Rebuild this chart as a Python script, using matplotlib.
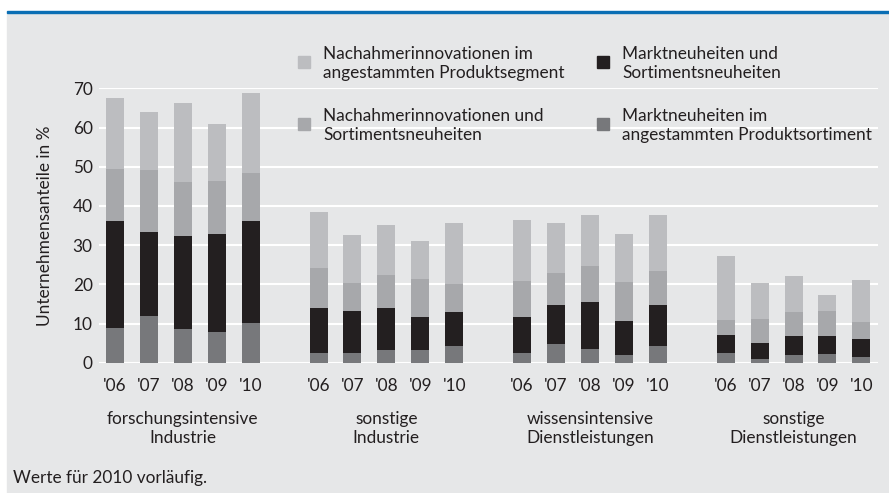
import numpy as np
import matplotlib
matplotlib.use("Agg")
import matplotlib.pyplot as plt
from matplotlib.patches import Rectangle

plt.rcParams['font.family'] = ['Lato', 'DejaVu Sans']

# data (Unternehmensanteile in %), stacked bottom -> top
groups = ["forschungsintensive\nIndustrie", "sonstige\nIndustrie",
          "wissensintensive\nDienstleistungen", "sonstige\nDienstleistungen"]
years = ["'06", "'07", "'08", "'09", "'10"]

# Marktneuheiten im angestammten Produktsortiment
markt_sortiment = [8.9, 11.9, 8.7, 7.8, 10.1,
                   2.5, 2.5, 3.2, 3.2, 4.3,
                   2.5, 4.8, 3.5, 2.0, 4.3,
                   2.5, 0.9, 2.0, 2.2, 1.4]
# Marktneuheiten und Sortimentsneuheiten
markt_neu = [27.2, 21.4, 23.6, 25.0, 26.0,
             11.5, 10.7, 10.8, 8.5, 8.6,
             9.2, 9.9, 12.0, 8.6, 10.4,
             4.6, 4.1, 4.8, 4.6, 4.6]
# Nachahmerinnovationen und Sortimentsneuheiten
nach_neu = [13.3, 15.9, 13.8, 13.6, 12.3,
            10.2, 7.1, 8.4, 9.7, 7.2,
            9.2, 8.2, 9.2, 10.0, 8.7,
            3.8, 6.1, 6.1, 6.4, 4.4]
# Nachahmerinnovationen im angestammten Produktsegment
nach_segment = [18.1, 14.8, 20.2, 14.5, 20.4,
                14.3, 12.3, 12.7, 9.7, 15.6,
                15.5, 12.8, 13.0, 12.3, 14.3,
                16.3, 9.2, 9.2, 4.1, 10.7]

labels = ["Nachahmerinnovationen im\nangestammten Produktsegment",
          "Nachahmerinnovationen und\nSortimentsneuheiten",
          "Marktneuheiten und\nSortimentsneuheiten",
          "Marktneuheiten im\nangestammten Produktsortiment"]

c_light, c_mid, c_black, c_dark = "#bcbdc0", "#a7a8ab", "#231f20", "#77787b"
bg = "#e6e7e8"
txt = "#231f20"
fs = 12.4

W, H = 889, 493
fig = plt.figure(figsize=(W / 100, H / 100), dpi=100)
fig.patches.append(Rectangle((7 / W, 0), 1, 480 / H, transform=fig.transFigure,
                             color=bg, zorder=-2))
fig.patches.append(Rectangle((7 / W, 480 / H), 1, 2.5 / H, transform=fig.transFigure,
                             color="#0a6eb4", zorder=-1))

ax = fig.add_axes([99 / W, 130.3 / H, 779 / W, 274.4 / H])
ax.set_facecolor(bg)

x = np.array([g * 6 + i for g in range(4) for i in range(5)])
w = 0.53
b1 = np.array(markt_sortiment)
b2 = b1 + np.array(markt_neu)
b3 = b2 + np.array(nach_neu)
ax.bar(x, markt_sortiment, w, color=c_dark, zorder=3)
ax.bar(x, markt_neu, w, bottom=b1, color=c_black, zorder=3)
ax.bar(x, nach_neu, w, bottom=b2, color=c_mid, zorder=3)
ax.bar(x, nach_segment, w, bottom=b3, color=c_light, zorder=3)

ax.set_xlim(-0.47, 22.49)
ax.set_ylim(0, 70)
ax.set_yticks(range(0, 71, 10))
ax.grid(axis='y', color='white', linewidth=1.5, zorder=0)
ax.set_axisbelow(True)
for s in ax.spines.values():
    s.set_visible(False)
ax.set_xticks(x)
ax.set_xticklabels(years * 4)
ax.tick_params(axis='both', length=0, labelsize=fs, colors=txt)
ax.tick_params(axis='x', pad=11)
ax.tick_params(axis='y', pad=4.5)
ax.set_ylabel("Unternehmensanteile in %", fontsize=fs, color=txt, labelpad=14)

for g, name in enumerate(groups):
    ax.text(g * 6 + 2, -0.176, name, transform=ax.get_xaxis_transform(),
            ha='center', va='top', fontsize=fs, color=txt, linespacing=1.22)

# legend drawn by hand (two columns, two rows)
leg_cols = [c_light, c_mid, c_black, c_dark]
sq_x = [298, 298, 597, 597]
txt_top = [46, 108, 46, 108]
for col, sx, ty, lab in zip(leg_cols, sq_x, txt_top, labels):
    fig.patches.append(Rectangle((sx / W, 1 - (ty + 22) / H), 12 / W, 12 / H,
                                 transform=fig.transFigure, color=col, zorder=5))
    fig.text((sx + 25) / W, 1 - ty / H, lab, fontsize=fs, color=txt,
             ha='left', va='top', linespacing=1.22)

fig.text(13 / W, 1 - 478.5 / H, "Werte für 2010 vorläufig.", fontsize=fs,
         color=txt, va='center', ha='left')

fig.savefig("out.png", dpi=100, facecolor='white')
